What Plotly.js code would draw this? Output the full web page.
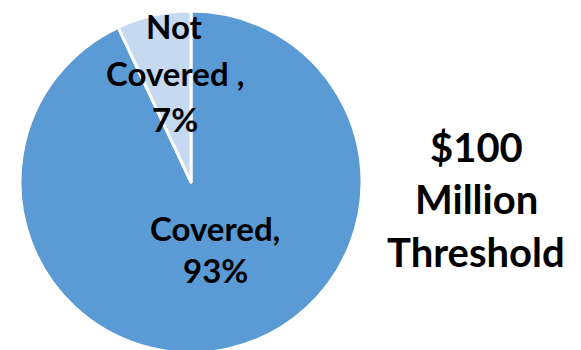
<!DOCTYPE html>
<html><head><meta charset="utf-8">
<script src="https://cdn.plot.ly/plotly-3.0.1.min.js"></script>
<style>html,body{margin:0;padding:0;overflow:hidden;background:#fff}</style>
</head><body>
<div id="chart" style="width:581px;height:360px"></div>
<script>
var labels = ['Covered', 'Not Covered '];
var values = [93, 7];
var colors = ['#5B9BD5', '#C5D9F1'];
var titleLines = ['$100', 'Million', 'Threshold'];

var H = 360;
var FONT = 'Lato, "Open Sans", sans-serif';
var FS = 33;
var TFS = 40;

var trace = {
  type: 'pie',
  labels: labels,
  values: values,
  sort: false,
  direction: 'clockwise',
  rotation: 0,
  marker: {colors: colors, line: {color: '#ffffff', width: 3}},
  textinfo: 'none',
  hoverinfo: 'label+percent',
  showlegend: false,
  domain: {x: [20/581, 362/581], y: [1 - 353/H, 1 - 11/H]}
};

function lineAnn(txt, x, y, fs) {
  return {text: '<b>' + txt + '</b>', x: x/581, y: 1 - y/H, xref: 'paper', yref: 'paper',
          showarrow: false, xanchor: 'center', yanchor: 'middle',
          font: {family: FONT, size: fs, color: '#000'}};
}

var nc = labels[1].trim().split(' ');
var anns = [
  lineAnn(nc[0], 174, 26, FS),
  lineAnn(nc[1] + ' ,', 175, 73, FS),
  lineAnn(values[1] + '%', 175, 119, FS),
  lineAnn(labels[0] + ',', 215, 228, FS),
  lineAnn(values[0] + '%', 215, 270, FS)
];
var ty = [147, 199, 252];
titleLines.forEach(function(t, i){ anns.push(lineAnn(t, 476, ty[i], TFS)); });

Plotly.newPlot('chart', [trace], {
  width: 581, height: H,
  margin: {l: 0, r: 0, t: 0, b: 0},
  paper_bgcolor: '#fff',
  annotations: anns
}, {staticPlot: true});
</script>
</body></html>
